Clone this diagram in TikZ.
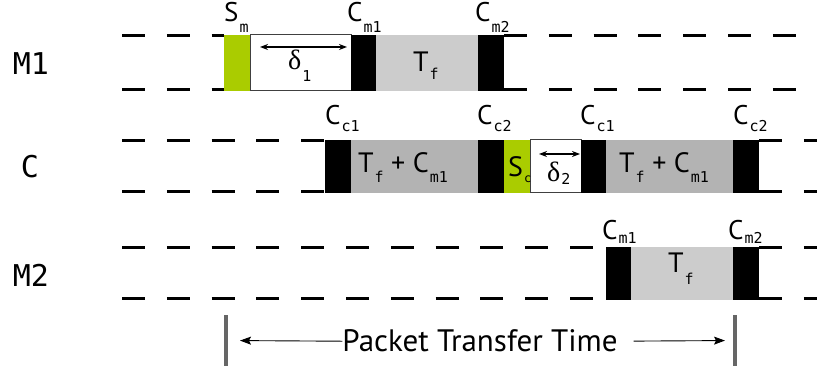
\documentclass[tikz,border=0pt]{standalone}
\usepackage{fontspec}
\setmainfont{PT Sans}
\newfontfamily\monofnt{DejaVu Sans Mono}
\newfontfamily\grkfnt{Liberation Serif}
\usetikzlibrary{arrows.meta}

\definecolor{slotgreen}{HTML}{AACC00}
\definecolor{lightslot}{HTML}{CCCCCC}
\definecolor{darkslot}{HTML}{B3B3B3}
\definecolor{barcol}{HTML}{666666}

% subscript dropped by #1 pt, set in the small mono face
\newcommand\dn[2]{\kern1pt\raisebox{-#1pt}{\fontsize{15}{15}\monofnt #2}}
\newcommand\dnsmall[2]{\kern1pt\raisebox{-#1pt}{\fontsize{12}{12}\monofnt #2}}

\begin{document}
\begin{tikzpicture}[x=1pt,y=-1pt,
  slot/.style={inner sep=0pt, outer sep=0pt, draw=none},
  rowa/.style={slot, minimum height=56pt},
  rowb/.style={slot, minimum height=53pt},
  blk/.style={fill=black},
  grn/.style={fill=slotgreen},
  lgr/.style={fill=lightslot},
  dgr/.style={fill=darkslot},
  wht/.style={fill=white, draw=black!75, line width=1pt},
  rail/.style={line width=3pt, line cap=butt, dash pattern=on 23pt off 21.8pt},
  lbl/.style={inner sep=0pt, anchor=base west, font=\fontsize{27}{27}\selectfont},
  intxt/.style={inner sep=0pt, anchor=base west, font=\fontsize{28}{28}\selectfont},
  rowname/.style={inner sep=0pt, anchor=base, font=\fontsize{30}{30}\monofnt},
  darr/.style={{Stealth[length=8pt,width=6pt]}-{Stealth[length=8pt,width=6pt]}, line width=1.5pt},
  tarr/.style={-{Stealth[length=11pt,width=8pt,inset=2pt]}, line width=0.9pt},
  bar/.style={slot, fill=barcol, minimum width=4pt, minimum height=51pt}
]
\useasboundingbox (0,0) rectangle (817,371);

% ---------------- row M1 ----------------
\node[rowa, wht, minimum width=101pt] (d1) at (300.5,63) {};
\node[rowa, grn, minimum width=26pt]  (sm)   at (237,63) {};
\node[rowa, blk, minimum width=25pt]  (cm1a) at (363.5,63) {};
\node[rowa, lgr, minimum width=102pt] (tf1)  at (427,63) {};
\node[rowa, blk, minimum width=26pt]  (cm2a) at (491,63) {};

\coordinate (m1tl) at (122,36);
\coordinate (m1bl) at (122,90);
\coordinate (m1tr) at (797,36);
\coordinate (m1br) at (797,90);
\draw[rail] (m1tl) -- (m1tl -| sm.west);
\draw[rail] (m1bl) -- (m1bl -| sm.west);
\draw[rail] (m1tr -| cm2a.east) -- (m1tr);
\draw[rail] (m1br -| cm2a.east) -- (m1br);

\node[lbl] (lsm)   at (224,22) {S\dn{11}{m}};
\node[lbl] (lcm1a) at (347,22) {C\dn{11}{m1}};
\node[lbl] (lcm2a) at (475,22) {C\dn{11}{m2}};

\coordinate (d1a) at (260,47);
\coordinate (d1b) at (347,47);
\draw[darr] (d1a) -- (d1b);
\node[intxt] (ld1) at (288,70) {{\fontsize{28}{28}\grkfnt δ}\dn{12}{1}};
\node[intxt] (ltf1) at (413,72) {T\dn{8}{f}};

\node[rowname] (rm1) at (31,75) {M1};

% ---------------- row C ----------------
\node[rowb, wht, minimum width=51pt]  (d2)   at (555.5,166.5) {};
\node[rowb, blk, minimum width=26pt]  (cc1a) at (338,166.5) {};
\node[rowb, dgr, minimum width=127pt] (tfc1) at (414.5,166.5) {};
\node[rowb, blk, minimum width=26pt]  (cc2a) at (491,166.5) {};
\node[rowb, grn, minimum width=26pt]  (sc)   at (517,166.5) {};
\node[rowb, blk, minimum width=25pt]  (cc1b) at (593.5,166.5) {};
\node[rowb, dgr, minimum width=127pt] (tfc2) at (669.5,166.5) {};
\node[rowb, blk, minimum width=26pt]  (cc2b) at (746,166.5) {};

\coordinate (ctl) at (122,141);
\coordinate (cbl) at (122,192);
\coordinate (ctr) at (817,141);
\coordinate (cbr) at (817,192);
\draw[rail] (ctl) -- (ctl -| cc1a.west);
\draw[rail] (cbl) -- (cbl -| cc1a.west);
\draw[rail] (ctr -| cc2b.east) -- (ctr);
\draw[rail] (cbr -| cc2b.east) -- (cbr);

\node[lbl] (lcc1a) at (325,125) {C\dn{7}{c1}};
\node[lbl] (lcc2a) at (477,125) {C\dn{7}{c2}};
\node[lbl] (lcc1b) at (580,125) {C\dn{7}{c1}};
\node[lbl] (lcc2b) at (733,125) {C\dn{7}{c2}};

\node[intxt] (ltfc1) at (358,173) {T\dn{10}{f} + C\dn{10}{m1}};
\node[intxt] (ltfc2) at (619,173) {T\dn{10}{f} + C\dn{10}{m1}};
\node[intxt] (lsc) at (508,177) {S\dnsmall{6}{c}};

\coordinate (d2a) at (539,154);
\coordinate (d2b) at (580,154);
\draw[darr] (d2a) -- (d2b);
\node[intxt] (ld2) at (547,182) {{\fontsize{28}{28}\grkfnt δ}\dn{3}{2}};

\node[rowname] (rc) at (30,178) {C};

% ---------------- row M2 ----------------
\node[rowb, blk, minimum width=25pt]  (cm1b) at (618.5,273.5) {};
\node[rowb, lgr, minimum width=102pt] (tf2)  at (682,273.5) {};
\node[rowb, blk, minimum width=26pt]  (cm2b) at (746,273.5) {};

\coordinate (m2tl) at (122,248);
\coordinate (m2bl) at (122,299);
\coordinate (m2tr) at (817,248);
\coordinate (m2br) at (817,299);
\draw[rail] (m2tl) -- (m2tl -| cm1b.west);
\draw[rail] (m2bl) -- (m2bl -| cm1b.west);
\draw[rail] (m2tr -| cm2b.east) -- (m2tr);
\draw[rail] (m2br -| cm2b.east) -- (m2br);

\node[lbl] (lcm1b) at (602,240) {C\dn{4}{m1}};
\node[lbl] (lcm2b) at (728,240) {C\dn{4}{m2}};
\node[intxt] (ltf2) at (668,273) {T\dn{12}{f}};

\node[rowname] (rm2) at (31,287) {M2};

% ---------------- transfer time span ----------------
\node[bar] (bl) at (226,340.5) {};
\node[bar] (br) at (735,340.5) {};
\node[inner sep=0pt, anchor=base, font=\fontsize{31}{31}\selectfont] (ptt) at (480,352) {Packet Transfer Time};
\draw[tarr, shorten >=12pt] (ptt.west) -- (bl);
\draw[tarr, shorten <=16pt, shorten >=8pt] (ptt.east) -- (br);
\end{tikzpicture}
\end{document}
